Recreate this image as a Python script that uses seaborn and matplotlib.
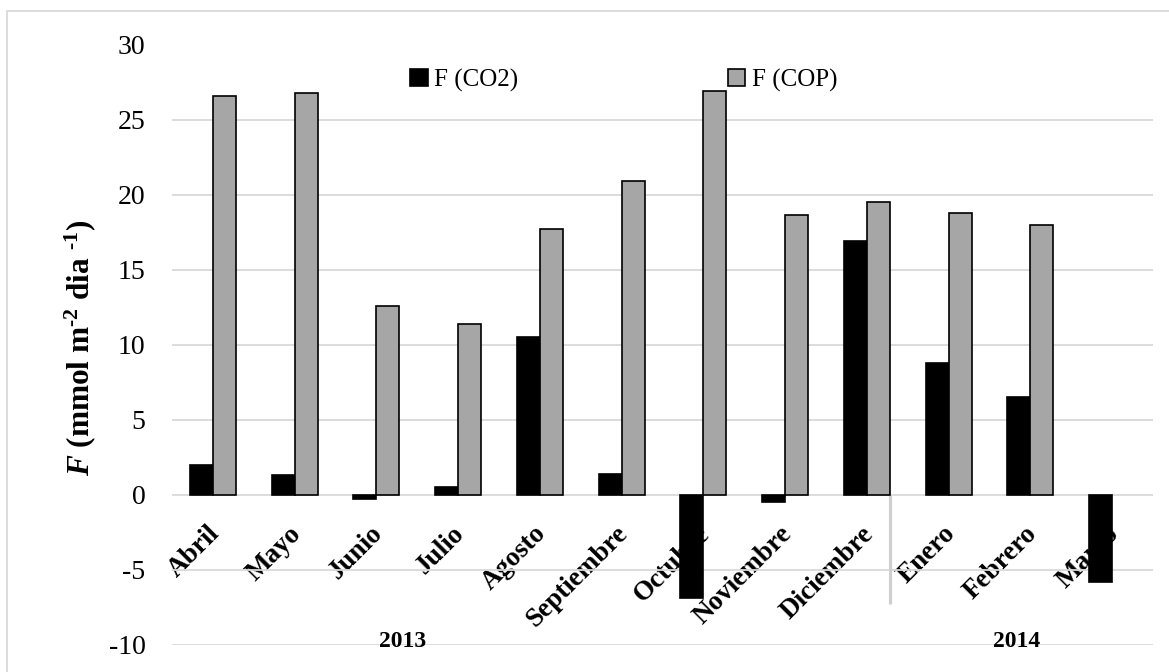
import matplotlib
matplotlib.use("Agg")
import matplotlib.pyplot as plt
import matplotlib.transforms as mtransforms
from matplotlib.patches import Patch, Rectangle
import numpy as np
import pandas as pd
import seaborn as sns

# Monthly fluxes, April 2013 - March 2014
months = ["Abril", "Mayo", "Junio", "Julio", "Agosto", "Septiembre",
          "Octubre", "Noviembre", "Diciembre", "Enero", "Febrero", "Marzo"]
flux_co2 = [2.0, 1.3, -0.3, 0.5, 10.5, 1.4, -6.9, -0.5, 16.9, 8.8, 6.5, -5.8]
flux_cop = [26.6, 26.8, 12.6, 11.4, 17.7, 20.9, 26.9, 18.65, 19.5, 18.75, 18.0, np.nan]
series_names = ["F (CO2)", "F (COP)"]
series_colors = ["#000000", "#a6a6a6"]
year_labels = ["2013", "2014"]

df = pd.DataFrame({
    "mes": months * 2,
    "flujo": flux_co2 + flux_cop,
    "serie": [series_names[0]] * len(months) + [series_names[1]] * len(months),
})

sns.set_theme(style="white")
plt.rcParams["font.family"] = ["Liberation Serif", "DejaVu Serif"]
plt.rcParams["text.color"] = "black"
plt.rcParams["xtick.color"] = "black"
plt.rcParams["ytick.color"] = "black"
plt.rcParams["axes.unicode_minus"] = False
plt.rcParams["mathtext.fontset"] = "custom"
plt.rcParams["mathtext.rm"] = "Liberation Serif:bold"
plt.rcParams["mathtext.bf"] = "Liberation Serif:bold"
plt.rcParams["mathtext.it"] = "Liberation Serif:italic:bold"
plt.rcParams["mathtext.default"] = "rm"

W, H, DPI = 1169, 672, 100
fig = plt.figure(figsize=(W / DPI, H / DPI), dpi=DPI)
fig.patch.set_facecolor("white")

left_px, right_px, top_px, bottom_px = 172, 1153, 44.5, 645
ax = fig.add_axes([left_px / W, 1 - bottom_px / H,
                   (right_px - left_px) / W, (bottom_px - top_px) / H])

sns.barplot(data=df, x="mes", y="flujo", hue="serie", order=months,
            hue_order=series_names, palette=dict(zip(series_names, series_colors)),
            saturation=1, width=0.56, edgecolor="black", linewidth=1.2,
            errorbar=None, legend=False, ax=ax, zorder=3)

ax.set_xlim(-0.5, len(months) - 0.5)
ax.set_ylim(-10, 30)
ax.set_yticks(np.arange(-10, 31, 5))
ax.set_axisbelow(True)
ax.yaxis.grid(True, color="#d9d9d9", linewidth=1.3)
ax.xaxis.grid(False)
for side in ["top", "right", "left"]:
    ax.spines[side].set_visible(False)
ax.spines["bottom"].set_position(("data", 0))
ax.spines["bottom"].set_visible(False)

ax.tick_params(axis="y", length=0, pad=19, labelsize=20, labelcolor="black")
ax.tick_params(axis="x", length=0, pad=19, labelcolor="black")
ax.set_xlabel("")
ax.set_ylabel("")

shift = mtransforms.ScaledTranslation(-6 / DPI, 0, fig.dpi_scale_trans)
for lbl in ax.get_xticklabels():
    lbl.set_rotation(45)
    lbl.set_ha("right")
    lbl.set_va("top")
    lbl.set_rotation_mode("anchor")
    lbl.set_fontsize(19.5)
    lbl.set_fontweight("bold")
    lbl.set_color("black")
    lbl.set_transform(lbl.get_transform() + shift)

# year separator between December and January
sep_x = months.index("Diciembre") + 0.28
ax.plot([sep_x, sep_x], [0, -7.3], color="#cfcfcf", linewidth=2.2,
        solid_capstyle="butt", zorder=1)

# year captions
ax.text(2.32, -9.75, year_labels[0], ha="center", va="center",
        fontsize=17, fontweight="bold", zorder=4)
ax.text(9.83, -9.75, year_labels[1], ha="center", va="center",
        fontsize=17, fontweight="bold", zorder=4)

fig.text(80 / W, 1 - 348 / H,
         r"$\mathit{F}$ (mmol m$^{\text{-2}}$ dia $^{\text{-1}}$)",
         rotation=90, ha="center", va="center", fontsize=22.5, fontweight="bold")

handles = [Patch(facecolor=c, edgecolor="black", linewidth=1.2) for c in series_colors]
ax.legend(handles, series_names, loc="center left",
          bbox_to_anchor=((410 - left_px) / (right_px - left_px), 1 - (80 - top_px) / (bottom_px - top_px)),
          ncol=2, frameon=False, fontsize=18, handlelength=0.7, handleheight=0.7,
          handletextpad=0.25, columnspacing=8.4, borderpad=0, borderaxespad=0)

# chart frame
fig.patches.append(Rectangle((7 / W, -0.05), 1.1, 1 - 11 / H + 0.05,
                             transform=fig.transFigure, fill=False,
                             edgecolor="#d9d9d9", linewidth=1.3, zorder=0))

fig.savefig("out.png", dpi=DPI, facecolor="white")
